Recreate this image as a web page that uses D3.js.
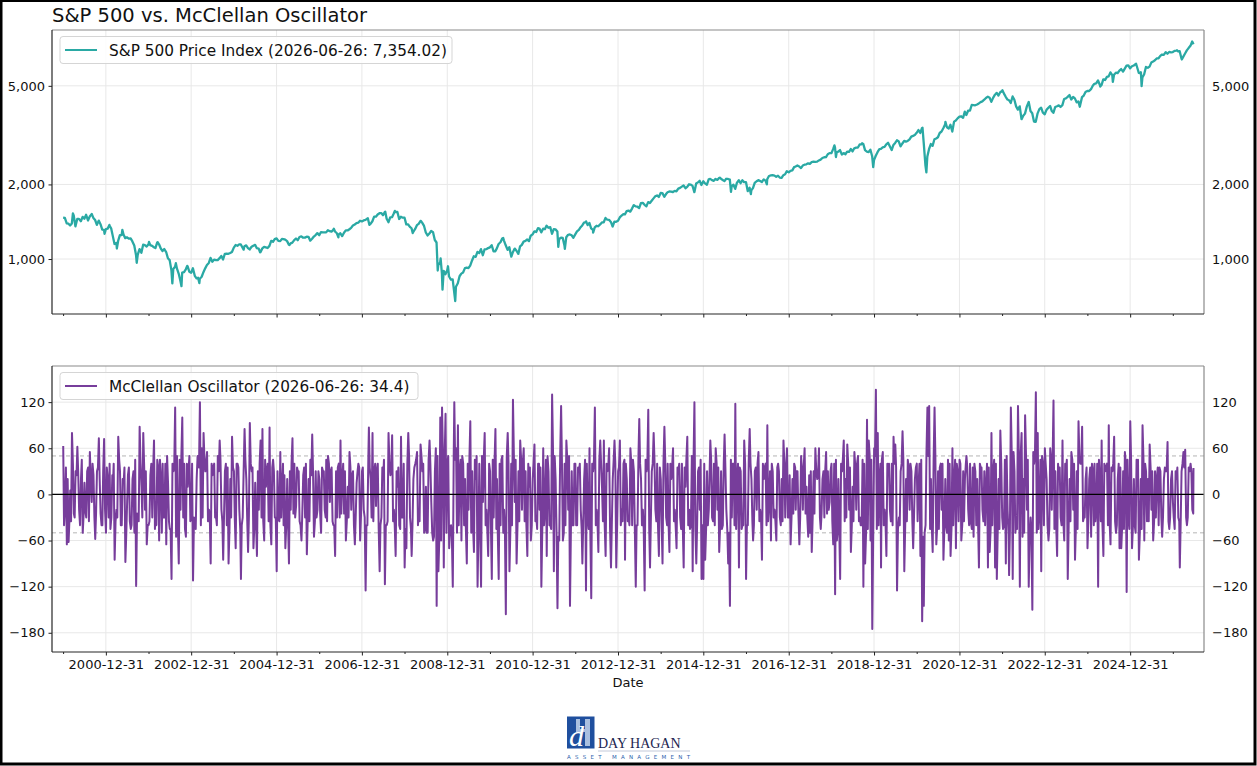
<!DOCTYPE html>
<html>
<head>
<meta charset="utf-8">
<script src="https://cdn.jsdelivr.net/npm/d3@7"></script>
<style>
  body { margin: 0; background: #fff; }
  svg { display: block; font-family: "DejaVu Sans", sans-serif; }
</style>
</head>
<body>
<svg id="chart" width="1257" height="766"></svg>
<script>
// S&P 500 month-end closes, Dec 1999 .. May 2026
const spxMonthEnd = [
  1469,
  1394, 1366, 1499, 1452, 1421, 1455, 1431, 1518, 1437, 1429, 1315, 1320,
  1366, 1240, 1160, 1249, 1256, 1224, 1211, 1134, 1041, 1060, 1139, 1148,
  1130, 1107, 1147, 1077, 1067, 990, 912, 916, 815, 886, 936, 880,
  856, 841, 848, 917, 964, 975, 990, 1008, 996, 1051, 1058, 1112,
  1131, 1145, 1126, 1107, 1121, 1141, 1102, 1104, 1115, 1130, 1174, 1212,
  1181, 1204, 1181, 1157, 1192, 1191, 1234, 1220, 1229, 1207, 1249, 1248,
  1280, 1281, 1295, 1311, 1270, 1270, 1277, 1304, 1336, 1378, 1401, 1418,
  1438, 1407, 1421, 1482, 1531, 1503, 1455, 1474, 1527, 1549, 1481, 1468,
  1379, 1331, 1323, 1386, 1400, 1280, 1267, 1283, 1166, 969, 896, 903,
  826, 735, 798, 873, 919, 919, 987, 1021, 1057, 1036, 1096, 1115,
  1074, 1104, 1169, 1187, 1089, 1031, 1102, 1049, 1141, 1183, 1181, 1258,
  1286, 1327, 1326, 1364, 1345, 1321, 1292, 1219, 1131, 1253, 1247, 1258,
  1312, 1366, 1408, 1398, 1310, 1362, 1379, 1407, 1441, 1412, 1416, 1426,
  1498, 1515, 1569, 1598, 1631, 1606, 1686, 1633, 1682, 1757, 1806, 1848,
  1783, 1859, 1872, 1884, 1924, 1960, 1931, 2003, 1972, 2018, 2068, 2059,
  1995, 2105, 2068, 2086, 2107, 2063, 2104, 1972, 1920, 2079, 2080, 2044,
  1940, 1932, 2060, 2065, 2097, 2099, 2174, 2171, 2168, 2126, 2199, 2239,
  2279, 2364, 2363, 2384, 2412, 2423, 2470, 2472, 2519, 2575, 2648, 2674,
  2824, 2714, 2641, 2648, 2705, 2718, 2816, 2902, 2914, 2712, 2760, 2507,
  2704, 2784, 2834, 2946, 2752, 2942, 2980, 2926, 2977, 3038, 3141, 3231,
  3226, 2954, 2585, 2912, 3044, 3100, 3271, 3500, 3363, 3270, 3622, 3756,
  3714, 3811, 3973, 4181, 4204, 4298, 4395, 4523, 4308, 4605, 4567, 4766,
  4516, 4374, 4530, 4132, 4132, 3785, 4130, 3955, 3586, 3872, 4080, 3840,
  4077, 3970, 4109, 4169, 4180, 4450, 4589, 4508, 4288, 4194, 4568, 4770,
  4846, 5096, 5254, 5036, 5278, 5460, 5522, 5648, 5762, 5705, 6032, 5882,
  6041, 5955, 5612, 5569, 5912, 6205, 6339, 6460, 6688, 6840, 6849, 6845,
  6940, 6900, 6560, 6950, 7250
];

// S&P 500 mid-month (15th) levels, Jan 2000 .. May 2026
const spxMidMonth = [
  1465, 1389, 1392, 1356, 1452, 1479, 1509, 1484, 1465, 1374, 1382, 1312,
  1326, 1326, 1150, 1183, 1249, 1214, 1208, 1178, 1038, 1097, 1142, 1123,
  1138, 1116, 1165, 1103, 1097, 1007, 900, 930, 874, 881, 909, 889,
  918, 835, 833, 885, 946, 1011, 994, 990, 1029, 1049, 1050, 1068,
  1139, 1145, 1110, 1135, 1093, 1132, 1106, 1066, 1120, 1108, 1184, 1203,
  1184, 1206, 1197, 1143, 1165, 1210, 1227, 1219, 1231, 1186, 1232, 1272,
  1285, 1280, 1307, 1289, 1292, 1256, 1237, 1305, 1319, 1365, 1396, 1427,
  1431, 1456, 1387, 1482, 1512, 1533, 1549, 1411, 1476, 1548, 1451, 1468,
  1380, 1349, 1288, 1370, 1423, 1360, 1245, 1298, 1193, 946, 873, 868,
  850, 827, 773, 852, 882, 923, 940, 1026, 1068, 1096, 1093, 1107,
  1137, 1075, 1150, 1211, 1136, 1116, 1065, 1080, 1125, 1176, 1199, 1242,
  1293, 1332, 1281, 1320, 1337, 1265, 1317, 1204, 1216, 1224, 1257, 1219,
  1293, 1344, 1402, 1370, 1330, 1342, 1356, 1405, 1465, 1440, 1353, 1413,
  1472, 1519, 1560, 1553, 1650, 1626, 1680, 1655, 1697, 1718, 1791, 1781,
  1845, 1829, 1873, 1863, 1877, 1937, 1981, 1955, 1998, 1862, 2039, 1990,
  2019, 2096, 2081, 2106, 2122, 2085, 2108, 2092, 1995, 2033, 2023, 2043,
  1880, 1895, 2028, 2081, 2046, 2072, 2163, 2180, 2147, 2133, 2180, 2262,
  2270, 2349, 2385, 2329, 2402, 2433, 2459, 2468, 2500, 2557, 2579, 2676,
  2776, 2698, 2752, 2677, 2711, 2779, 2798, 2818, 2905, 2750, 2701, 2600,
  2610, 2775, 2822, 2905, 2850, 2886, 3014, 2847, 2997, 2995, 3120, 3168,
  3316, 3380, 2386, 2780, 2863, 3066, 3226, 3373, 3401, 3483, 3585, 3695,
  3768, 3934, 3968, 4185, 4173, 4246, 4327, 4468, 4480, 4471, 4682, 4709,
  4662, 4401, 4263, 4392, 4008, 3667, 3863, 4297, 3873, 3583, 4027, 3895,
  3999, 4147, 3891, 4137, 4109, 4425, 4510, 4404, 4450, 4327, 4502, 4719,
  4766, 5005, 5117, 5051, 5308, 5431, 5667, 5543, 5626, 5842, 5870, 6051,
  5997, 6115, 5638, 5405, 5958, 5977, 6263, 6449, 6606, 6671, 6734, 6827,
  6920, 6880, 6450, 6750, 7100
];

// intra-month highs and lows
const spxSwings = [
  ["2000-03-24", 1527], ["2000-04-14", 1357], ["2000-09-01", 1520], ["2000-12-20", 1264],
  ["2001-01-30", 1373], ["2001-04-04", 1103], ["2001-05-21", 1312], ["2001-09-21", 966],
  ["2002-01-04", 1173], ["2002-03-19", 1170], ["2002-07-23", 797], ["2002-08-22", 962],
  ["2002-10-09", 777], ["2002-11-27", 938], ["2003-03-11", 800], ["2004-03-24", 1091],
  ["2004-08-12", 1064], ["2005-04-20", 1138], ["2006-05-05", 1325], ["2006-06-13", 1223],
  ["2007-02-20", 1460], ["2007-03-05", 1374], ["2007-07-19", 1553], ["2007-08-15", 1407],
  ["2007-10-09", 1565], ["2008-03-10", 1273], ["2008-05-19", 1426], ["2008-10-10", 899],
  ["2008-11-04", 1005], ["2008-11-20", 752], ["2009-01-06", 935], ["2009-03-09", 677],
  ["2010-04-23", 1217], ["2010-07-02", 1022], ["2011-04-29", 1364], ["2011-08-08", 1119],
  ["2011-10-03", 1099], ["2012-04-02", 1419], ["2012-06-01", 1278], ["2014-10-16", 1862],
  ["2015-05-21", 2131], ["2015-08-25", 1867], ["2016-02-11", 1829], ["2016-06-27", 2001],
  ["2018-01-26", 2873], ["2018-02-08", 2581], ["2018-09-20", 2931], ["2018-12-24", 2351],
  ["2020-02-19", 3386], ["2020-03-23", 2237], ["2020-09-02", 3580], ["2022-01-03", 4797],
  ["2022-06-16", 3667], ["2022-08-16", 4305], ["2022-10-12", 3577], ["2023-10-27", 4117],
  ["2024-04-19", 4967], ["2024-08-05", 5186], ["2025-02-19", 6144], ["2025-04-02", 5671],
  ["2025-04-08", 4982], ["2026-02-05", 6960], ["2026-03-18", 6385], ["2026-06-15", 7550],
  ["2026-06-26", 7354.02]
];

// McClellan Oscillator, readings on the 1st and 16th of each month from Jan 2000
const mcclellan = [
  63, -18, -65, -62, 5, 80, -25, 30, 62, -20, 20, -50, 15, -30, 35, 55, -10, 25, -58, 30, 73, -25, -40, 72,
  -50, 20, 40, -30, 10, -85, -20, 75, 30, -40, 15, -88, -10, 35, -45, 20, -50, -119, -30, 88, 10, 80, -20, -65,
  -40, 25, -30, 70, -10, 45, -60, 20, 40, -30, -65, 15, -45, -110, 30, 113, 50, -90, -20, 100, 40, -55, 10, 50,
  -30, -112, -40, 20, 45, 120, 60, 80, 30, 55, -20, -90, 25, 40, -30, 50, 70, -20, -85, 30, -40, -90, 20, 75,
  30, -70, 40, -20, -110, -30, 85, 20, -75, 93, 30, -70, 15, -80, -20, 70, 85, -60, 10, 40, 87, -65, 45, -30,
  -100, -30, 55, 10, -40, -70, 20, -90, -20, 73, 40, -15, 30, -35, -60, 25, -30, -78, 20, 45, 78, -55, 30, -20,
  20, -50, 30, -20, 45, 50, -10, 35, -40, -80, -30, 40, 70, 20, -25, -60, 10, 55, -20, 30, -65, 15, 40, -60,
  30, -20, -125, -40, 87, 20, 80, 30, -15, 40, -100, -30, 20, -117, -40, 80, 25, 77, -20, -80, 10, -40, 75, -30,
  -95, -70, 80, -30, -80, 20, 40, 55, -20, 65, 30, -50, 10, -50, 70, -10, -60, 30, -145, -100, 100, 113, -95, 105,
  40, -70, -40, -120, 120, 60, 90, 30, -60, 40, 20, -90, -20, 95, 30, -75, 20, -120, 40, -120, -10, 80, -20, -80,
  30, -110, -30, 85, 20, -110, -40, 50, -20, -156, 80, -100, 40, 123, -10, -90, 30, 70, -20, 60, 30, -80, 10, -60,
  20, 65, -30, 40, -20, -120, 60, -20, -80, 30, -40, 130, -100, 20, -148, -60, 115, -60, 40, 70, -20, -145, 30, -40,
  40, -40, 30, -20, -90, 20, -125, -30, 60, -135, 30, 113, -20, -75, 70, 10, 70, -80, 30, 60, -95, 20, 70, -95,
  30, 70, -20, 40, -85, 20, -30, 60, -40, 30, -120, -40, 98, 20, -20, -125, 30, 110, -95, 30, 80, -20, 40, -80,
  20, -90, 88, -30, 40, -75, 20, 60, -20, -70, 30, -30, 40, -95, 10, 75, -20, -40, -100, 120, -90, 30, -20, -110,
  -110, -85, 30, -20, 70, -30, 40, 60, -20, -75, 30, -40, 78, -20, -90, -145, -30, 40, 118, 20, -95, 30, -40, 70,
  -110, -40, 85, 20, -60, 30, -20, 55, -20, -85, 20, 40, 90, -10, -60, 30, -20, -60, 40, -30, 20, 70, -30, 60,
  -30, -65, 20, 40, -20, 30, -65, 50, -20, 60, 10, -55, -50, -75, 30, 60, 20, 60, -45, 20, -30, 55, 30, -10,
  40, -65, -130, -60, 20, -110, 30, 70, 20, 65, -20, -75, 10, 55, -20, 50, -30, -40, -120, -90, 97, 70, -60, -175,
  60, 136, 80, 20, -95, 55, -20, -80, 30, -20, 40, 75, 65, -125, -30, 30, 82, -100, 20, 45, -20, 30, -70, 20,
  40, 10, -80, -165, -145, -40, 113, 115, 20, -75, 113, -65, 30, 35, -20, -85, 20, -50, -60, -80, 60, 20, -70, 30,
  45, -60, 30, 20, 50, -20, 40, -45, -55, 30, 20, -95, 35, -20, 30, 10, -95, -75, 80, 30, -95, -110, 20, 83,
  -30, -40, -90, -20, -105, 113, -110, 30, -30, 115, -120, 80, 20, 103, -20, -120, -30, -150, 40, 133, 80, -20, -100, 40,
  60, 20, -60, 60, -20, 122, 30, -80, 20, -30, 70, -60, 30, -110, 20, 55, -20, -85, 30, 95, 40, 88, -30, 20,
  -70, 20, -55, 30, 40, -20, -120, 20, 70, -80, 30, 40, 90, -65, 30, 75, -50, 20, -70, -70, 30, 55, -127, -30,
  95, -70, 20, -50, 30, -85, 20, 90, -60, 30, 20, 65, -20, -60, 30, 20, -40, 30, -55, 20, 30, 68, -45, 20,
  -10, -45, 20, -30, -95, 30, 55, 58, -40, 35, 40, -20
];

// McClellan Oscillator, readings on the 8th and 24th of each month from Jan 2000
const mcclellanMid = [
  -40, 35, 20, -30, -35, 40, -30, 25, 30, -40, 45, -25, -20, 30, -35, 20, 40, -30, -25, 35, 20, -40, 30, -20,
  35, -30, -45, 25, 40, -35, -30, 45, -40, 20, 35, -50, 25, -35, -40, 30, 45, -25, -35, 40, -30, 35, 30, -40,
  -35, 40, 30, -45, -40, 35, 45, -50, -30, 40, 50, -35, -45, 40, 35, -55, -40, 45, 50, -30, -45, 40, 30, -35,
  40, -30, -45, 50, 35, -40, -30, 45, 40, -35, -25, 40, 35, -30, -40, 30, 45, -35, -30, 40, 35, -45, -30, 35,
  -30, 40, 35, -45, -40, 30, 45, -35, -30, 40, 35, -40, -35, 30, 40, -30, -35, 45, 30, -35, -40, 35, 30, -30,
  30, -35, -30, 40, 25, -40, -35, 30, 40, -25, -30, 35, 30, -40, -25, 35, 40, -30, -35, 25, 30, -35, -30, 30,
  -25, 35, 30, -30, -35, 40, 30, -35, -40, 30, 35, -30, -25, 40, 30, -35, -30, 35, 25, -40, -30, 30, 35, -25,
  35, -30, -40, 45, 35, -30, -35, 40, 30, -45, -40, 35, 45, -40, -35, 40, 30, -35, -40, 30, 35, -45, -30, 40,
  -45, 40, 50, -45, -40, 35, 45, -40, -35, 50, 40, -45, -50, 45, 40, -50, -55, 60, 50, -55, -60, 50, 45, -50,
  50, -45, -55, 50, 45, -50, -40, 45, 50, -40, -45, 40, 45, -50, -40, 45, 50, -45, -40, 50, 45, -40, -45, 40,
  -40, 45, 40, -45, -50, 40, 45, -50, -45, 50, 40, -45, -40, 50, 45, -40, -35, 45, 40, -35, -40, 40, 35, -40,
  40, -35, -45, 40, 35, -45, -40, 45, 50, -40, -45, 55, 50, -50, -55, 50, 45, -50, -40, 45, 50, -45, -40, 40,
  -40, 35, 40, -45, -40, 45, 40, -45, -50, 40, 45, -40, -35, 45, 40, -35, -40, 40, 35, -45, -40, 45, 40, -35,
  35, -40, -35, 45, 40, -35, -40, 40, 45, -45, -40, 50, 40, -40, -45, 45, 40, -45, -35, 40, 45, -35, -40, 35,
  -35, 40, 45, -40, -35, 40, 35, -35, -40, 35, 40, -45, -40, 35, 45, -40, -45, 50, 40, -45, -40, 35, 45, -40,
  40, -45, -40, 35, 45, -35, -40, 40, 35, -40, -45, 40, 35, -45, -50, 45, 40, -40, -45, 40, 35, -45, -40, 40,
  -40, 45, 40, -35, -40, 35, 40, -35, -30, 40, 35, -40, -35, 30, 40, -30, -35, 35, 30, -40, -35, 40, 30, -30,
  25, -30, -25, 35, 30, -25, -30, 30, 35, -25, -30, 25, 30, -30, -25, 30, 25, -30, -25, 30, 30, -25, -20, 30,
  -35, 40, 45, -45, -40, 40, 45, -35, -30, 40, 35, -40, -35, 35, 40, -35, -40, 45, 40, -50, -45, 50, 45, -50,
  50, -45, -40, 40, 45, -40, -35, 40, 40, -35, -40, 40, 35, -45, -40, 40, 45, -40, -35, 35, 40, -35, -30, 35,
  -35, 40, 45, -55, -50, 55, 50, -45, -40, 45, 50, -40, -45, 40, 40, -45, -40, 45, 40, -45, -40, 45, 40, -35,
  40, -40, -35, 40, 35, -40, -35, 35, 40, -40, -35, 40, 35, -35, -40, 40, 35, -45, -40, 45, 40, -45, -45, 40,
  -45, 45, 50, -50, -45, 50, 55, -50, -45, 50, 50, -55, -50, 50, 45, -55, -50, 55, 50, -50, -45, 45, 50, -40,
  40, -40, -45, 45, 40, -45, -40, 40, 35, -40, -35, 40, 45, -40, -35, 45, 40, -40, -45, 45, 40, -35, -30, 35,
  -35, 35, 40, -40, -35, 40, 45, -35, -40, 40, 35, -40, -35, 35, 40, -35, -40, 40, 35, -40, -45, 40, 45, -45,
  45, -40, -40, 45, 45, -50, -45, 45, 40, -35, -35, 35, 30, -35, -30, 35, 35, -30, -30, 35, 30, -35, -30, 30,
  -30, 30, 35, -35, -40, 40, 35, -30, -30, 30, 30, -25
];
const mcclellanLast = ["2026-06-26", 34.4];

const majorYears = [2000, 2002, 2004, 2006, 2008, 2010, 2012, 2014, 2016, 2018, 2020, 2022, 2024];
const minorYears = [1999, 2001, 2003, 2005, 2007, 2009, 2011, 2013, 2015, 2017, 2019, 2021, 2023, 2025];
const spxTicks = [1000, 2000, 5000];
const oscTicks = [-180, -120, -60, 0, 60, 120];
const oscBands = [50, -50];

const teal = "#2aa9a4";
const purple = "#773d9b";
const gridColor = "#e8e8e8";

const W = 1257, H = 766;
const left = 52, right = 1204;
const p1 = { top: 30, bottom: 314 };
const p2 = { top: 366, bottom: 652 };

const parse = d3.utcParse("%Y-%m-%d");
const byDate = (a, b) => a.date - b.date;

// build series
const spx = spxMonthEnd.map((v, i) => ({ date: new Date(Date.UTC(1999, 12 + i, 0)), value: v }))
  .concat(spxMidMonth.map((v, i) => ({ date: new Date(Date.UTC(2000, i, 15)), value: v })))
  .concat(spxSwings.map(d => ({ date: parse(d[0]), value: d[1] })))
  .sort(byDate);

const osc = mcclellan.map((v, i) => ({
    date: new Date(Date.UTC(2000, Math.floor(i / 2), i % 2 ? 16 : 1)), value: v }))
  .concat(mcclellanMid.map((v, i) => ({
    date: new Date(Date.UTC(2000, Math.floor(i / 2), i % 2 ? 24 : 8)), value: v })))
  .concat([{ date: parse(mcclellanLast[0]), value: mcclellanLast[1] }])
  .sort(byDate);

const svg = d3.select("#chart");
svg.append("rect").attr("width", W).attr("height", H).attr("fill", "#fff");

const x = d3.scaleUtc()
  .domain([parse("1999-09-27"), parse("2026-09-24")])
  .range([left, right]);

const y1 = d3.scaleLog().domain([600, 8400]).range([p1.bottom, p1.top]);
const y2 = d3.scaleLinear().domain([-205, 167]).range([p2.bottom, p2.top]);

const majorDates = majorYears.map(yr => new Date(Date.UTC(yr, 11, 31)));
const minorDates = minorYears.map(yr => new Date(Date.UTC(yr, 11, 31)));

function panel(p, y, yTicks, fmt) {
  const g = svg.append("g");
  // grid
  g.selectAll(".vg").data(majorDates).enter().append("line")
    .attr("x1", d => x(d)).attr("x2", d => x(d))
    .attr("y1", p.top).attr("y2", p.bottom)
    .attr("stroke", gridColor).attr("stroke-width", 1);
  g.selectAll(".hg").data(yTicks).enter().append("line")
    .attr("x1", left).attr("x2", right)
    .attr("y1", d => y(d)).attr("y2", d => y(d))
    .attr("stroke", gridColor).attr("stroke-width", 1);

  // left axis
  g.append("g")
    .attr("transform", `translate(${left},0)`)
    .call(d3.axisLeft(y).tickValues(yTicks).tickFormat(fmt).tickSize(3.5).tickPadding(3.5))
    .call(a => a.select(".domain").remove())
    .call(a => a.selectAll("text").attr("font-size", 13).attr("fill", "#111").attr("font-family", "DejaVu Sans"))
    .call(a => a.selectAll("line").attr("stroke", "#222"));
  // right labels
  g.append("g")
    .attr("transform", `translate(${right},0)`)
    .call(d3.axisRight(y).tickValues(yTicks).tickFormat(fmt).tickSize(0).tickPadding(8))
    .call(a => a.select(".domain").remove())
    .call(a => a.selectAll("text").attr("font-size", 13).attr("fill", "#111").attr("font-family", "DejaVu Sans"));

  // minor ticks along the bottom
  g.append("g")
    .attr("transform", `translate(0,${p.bottom})`)
    .call(d3.axisBottom(x).tickValues(minorDates).tickFormat("").tickSize(2))
    .call(a => a.select(".domain").remove())
    .call(a => a.selectAll("line").attr("stroke", "#222"));
  return g;
}

function spines(p) {
  svg.append("line").attr("x1", left).attr("x2", right).attr("y1", p.top).attr("y2", p.top)
    .attr("stroke", "#8a8a8a").attr("stroke-width", 1.2);
  svg.append("line").attr("x1", right).attr("x2", right).attr("y1", p.top).attr("y2", p.bottom)
    .attr("stroke", "#8a8a8a").attr("stroke-width", 1.2);
  svg.append("line").attr("x1", left).attr("x2", left).attr("y1", p.top).attr("y2", p.bottom)
    .attr("stroke", "#262626").attr("stroke-width", 1.2);
  svg.append("line").attr("x1", left).attr("x2", right).attr("y1", p.bottom).attr("y2", p.bottom)
    .attr("stroke", "#262626").attr("stroke-width", 1.2);
}

function legend(p, w, color, label) {
  const g = svg.append("g").attr("transform", `translate(60,${p.top + 6.5})`);
  g.append("rect").attr("width", w).attr("height", 27).attr("rx", 3)
    .attr("fill", "#fff").attr("fill-opacity", 0.85).attr("stroke", "#d5d5d5");
  g.append("line").attr("x1", 5).attr("x2", 37).attr("y1", 13.5).attr("y2", 13.5)
    .attr("stroke", color).attr("stroke-width", 2);
  g.append("text").attr("x", 49).attr("y", 19).attr("font-size", 15.3)
    .attr("fill", "#111").text(label);
}

// ---- top panel: S&P 500 (log) ----
const spxPanel = panel(p1, y1, spxTicks, d3.format(","));
spxPanel.append("g")
  .attr("transform", `translate(0,${p1.bottom})`)
  .call(d3.axisBottom(x).tickValues(majorDates).tickFormat("").tickSize(3.5))
  .call(a => a.select(".domain").remove())
  .call(a => a.selectAll("line").attr("stroke", "#222"));

svg.append("path").datum(spx)
  .attr("fill", "none").attr("stroke", teal).attr("stroke-width", 2.3)
  .attr("stroke-linejoin", "round")
  .attr("d", d3.line().x(d => x(d.date)).y(d => y1(d.value)));

spines(p1);
legend(p1, 392, teal, "S&P 500 Price Index (2026-06-26: 7,354.02)");

// ---- bottom panel: McClellan Oscillator ----
const oscPanel = panel(p2, y2, oscTicks, d3.format("d"));
oscPanel.append("g")
  .attr("transform", `translate(0,${p2.bottom})`)
  .call(d3.axisBottom(x).tickValues(majorDates).tickFormat(d3.utcFormat("%Y-%m-%d")).tickSize(3.5).tickPadding(4))
  .call(a => a.select(".domain").remove())
  .call(a => a.selectAll("line").attr("stroke", "#222"))
  .call(a => a.selectAll("text").attr("font-size", 13).attr("fill", "#111").attr("font-family", "DejaVu Sans"));

svg.selectAll(".band").data(oscBands).enter().append("line")
  .attr("x1", left).attr("x2", right)
  .attr("y1", d => y2(d)).attr("y2", d => y2(d))
  .attr("stroke", "#b5b5b5").attr("stroke-width", 1).attr("stroke-dasharray", "4,3");

svg.append("path").datum(osc)
  .attr("fill", "none").attr("stroke", purple).attr("stroke-width", 2)
  .attr("stroke-linejoin", "round")
  .attr("d", d3.line().x(d => x(d.date)).y(d => y2(d.value)));

svg.append("line").attr("x1", left).attr("x2", right)
  .attr("y1", y2(0)).attr("y2", y2(0))
  .attr("stroke", "#000").attr("stroke-width", 1.2);

spines(p2);
legend(p2, 358, purple, "McClellan Oscillator (2026-06-26: 34.4)");

svg.append("text").attr("x", (left + right) / 2).attr("y", 687)
  .attr("text-anchor", "middle").attr("font-size", 13).attr("fill", "#111").text("Date");

// title
svg.append("text").attr("x", 52).attr("y", 22)
  .attr("font-size", 19.5).attr("fill", "#111").text("S&P 500 vs. McClellan Oscillator");

// logo
const logo = svg.append("g");
logo.append("rect").attr("x", 567).attr("y", 716.5).attr("width", 27.5).attr("height", 32).attr("fill", "#1f4f9e");
logo.append("path").attr("d", "M585,719 L590,719 L590,746 L585,746 Z M576,719 L580,719 L580,732 L576,732 Z M576,729 L590,729 L590,732 L576,732 Z")
  .attr("fill", "#a9bfe0");
logo.append("text").attr("x", 569).attr("y", 746).attr("font-family", "Liberation Serif")
  .attr("font-style", "italic").attr("font-size", 30).attr("fill", "#fff").text("d");
logo.append("text").attr("x", 598).attr("y", 748).attr("font-family", "Liberation Serif")
  .attr("font-size", 14).attr("fill", "#1c2550").text("DAY HAGAN");
logo.append("line").attr("x1", 598).attr("x2", 690).attr("y1", 751).attr("y2", 751)
  .attr("stroke", "#9aa6c0").attr("stroke-width", 0.6);
logo.append("text").attr("x", 567).attr("y", 758.5).attr("font-family", "DejaVu Sans")
  .attr("font-size", 5.5).attr("fill", "#2b5fad")
  .attr("textLength", 123).attr("lengthAdjust", "spacing").text("ASSET MANAGEMENT");

// outer frame
svg.append("rect").attr("x", 1).attr("y", 0.5).attr("width", W - 3).attr("height", H - 2.5)
  .attr("fill", "none").attr("stroke", "#000").attr("stroke-width", 3);
</script>
</body>
</html>
